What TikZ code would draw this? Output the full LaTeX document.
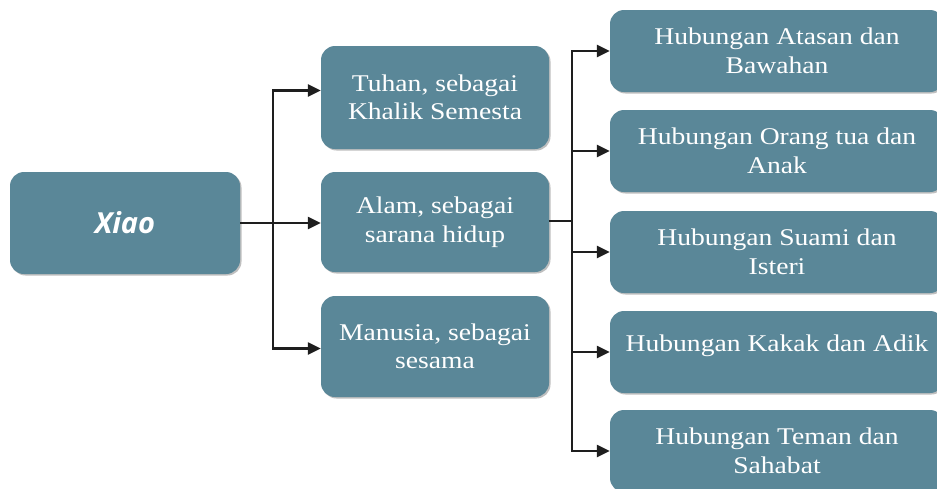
\documentclass[tikz,border=0pt]{standalone}
\usepackage{fontspec}
\setmainfont{Liberation Serif}[FakeStretch=1.15]
\newfontfamily\xiaofont{Open Sans}
\usetikzlibrary{arrows.meta,shadows}
\definecolor{boxcol}{RGB}{90,135,152}
\definecolor{linecol}{RGB}{30,30,30}
\tikzset{
  box/.style={fill=boxcol, rounded corners=14pt, text=white, align=center, inner sep=0pt,
    font=\fontsize{24}{28.5}\selectfont,
    drop shadow={shadow xshift=1.5pt, shadow yshift=-1.5pt, opacity=0.25, fill=black}},
  conn/.style={draw=linecol, line width=2.4pt},
  arr/.style={conn, -{Triangle[length=13pt,width=12pt]}}
}
\begin{document}
\begin{tikzpicture}[x=1pt,y=-1pt]
\useasboundingbox (0,0) rectangle (937,488);
\clip (0,0) rectangle (937,488);
\node[box, minimum width=230pt, minimum height=102pt, font=\xiaofont\bfseries\itshape\fontsize{29}{32}\selectfont] (xiao) at (125,223) {Xiao};
\node[box, minimum width=228pt, minimum height=103pt] (tuhan) at (435,97.5) {Tuhan, sebagai\\Khalik Semesta};
\node[box, minimum width=228pt, minimum height=100pt] (alam) at (435,222) {Alam, sebagai\\sarana hidup};
\node[box, minimum width=228pt, minimum height=101pt] (manusia) at (435,346.5) {Manusia, sebagai\\sesama};
\node[box, minimum width=334pt, minimum height=82pt] (r1) at (777,51) {Hubungan Atasan dan\\Bawahan};
\node[box, minimum width=334pt, minimum height=82pt] (r2) at (777,151) {Hubungan Orang tua dan\\Anak};
\node[box, minimum width=334pt, minimum height=82pt] (r3) at (777,252) {Hubungan Suami dan\\Isteri};
\node[box, minimum width=334pt, minimum height=82pt] (r4) at (777,352) {\raisebox{6pt}[\height][\depth]{Hubungan Kakak dan Adik}};
\node[box, minimum width=334pt, minimum height=82pt] (r5) at (777,451) {Hubungan Teman dan\\Sahabat};
% left connectors
\coordinate (j1) at (273,223);
\draw[conn] (xiao.east) -- (j1);
\draw[arr] (j1) -- (j1 -| alam.west);
\draw[arr] (j1) |- ([yshift=7pt]tuhan.west);
\draw[arr] (j1) |- ([yshift=-2pt]manusia.west);
% right connectors
\coordinate (j2) at (572,221);
\draw[conn] (j2 -| alam.east) -- (j2);
\draw[arr] (j2) |- (r1.west);
\draw[arr] (j2) |- (r2.west);
\draw[arr] (j2) |- (r3.west);
\draw[arr] (j2) |- (r4.west);
\draw[arr] (j2) |- (r5.west);
\end{tikzpicture}
\end{document}
